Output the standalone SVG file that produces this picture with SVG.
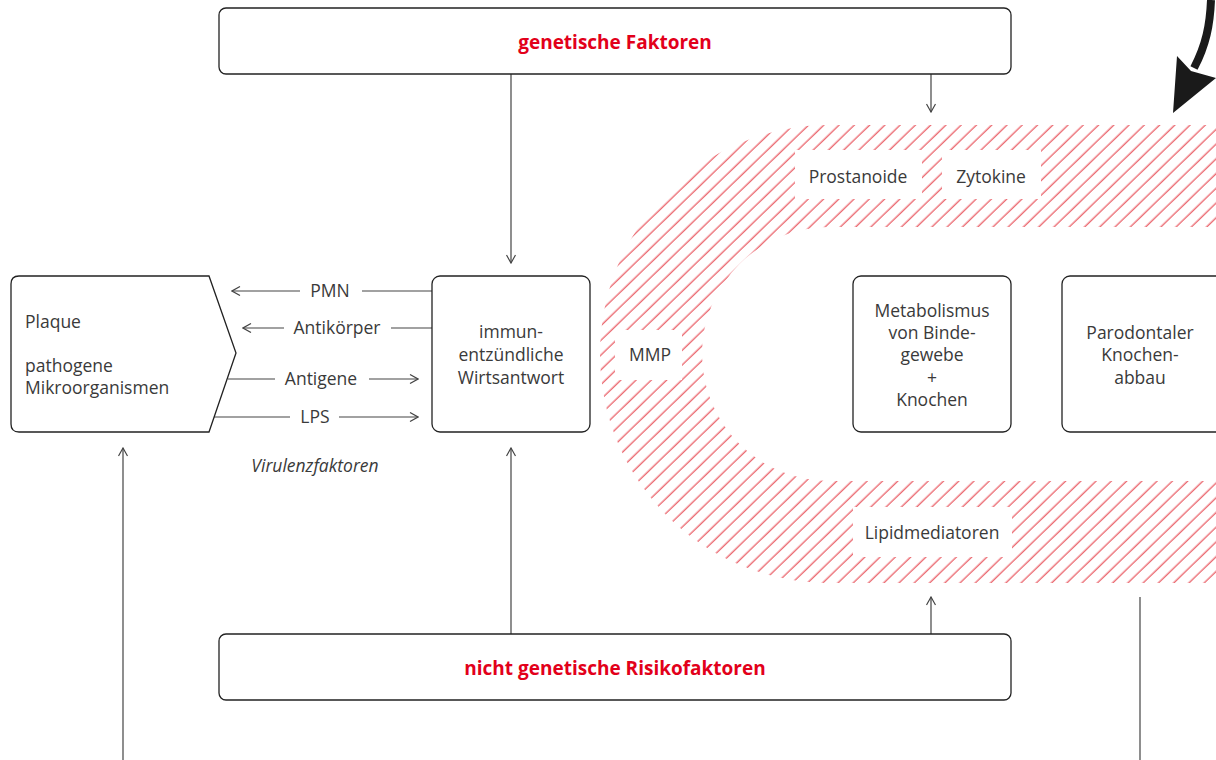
<svg xmlns="http://www.w3.org/2000/svg" width="1216" height="760" viewBox="0 0 1216 760">
<style>
.box{fill:#fff;stroke:#222;stroke-width:1.3}
.lbl{font-family:"Open Sans","Liberation Sans",sans-serif;font-size:17.5px;fill:#3a3a3a}
.mid{text-anchor:middle}
.title{font-family:"Open Sans","Liberation Sans",sans-serif;font-size:19px;font-weight:bold;fill:#e2001a;text-anchor:middle}
.con{stroke:#444;stroke-width:1.2;fill:none}
.hole{fill:#fff}
</style>
<defs>
<pattern id="hatch" patternUnits="userSpaceOnUse" width="10.6" height="10" patternTransform="rotate(46)">
<line x1="5" y1="-1" x2="5" y2="11" stroke="#e3303a" stroke-width="1"/>
</pattern>
<marker id="arr" viewBox="0 0 10 10" refX="9" refY="5" markerWidth="10" markerHeight="10" markerUnits="userSpaceOnUse" orient="auto">
<path d="M1,0.5 L9,5 L1,9.5" fill="none" stroke="#444" stroke-width="1.2"/>
</marker>
</defs>
<rect width="1216" height="760" fill="#fff"/>

<g id="band">
<path d="M1216,125 H829 A229,229 0 0 0 829,583 H1216 V481 H829 A127,127 0 0 1 829,227 H1216 Z" fill="url(#hatch)"/>
</g>

<g id="prostanoide">
<rect class="hole" x="795" y="150" width="127" height="49"/>
<text class="lbl mid" x="858" y="183">Prostanoide</text>
</g>
<g id="zytokine">
<rect class="hole" x="942" y="150" width="99" height="49"/>
<text class="lbl mid" x="991" y="183">Zytokine</text>
</g>
<g id="mmp">
<rect class="hole" x="615" y="330" width="67" height="50"/>
<text class="lbl mid" x="650" y="361">MMP</text>
</g>
<g id="lipidmediatoren">
<rect class="hole" x="853" y="507" width="159" height="50"/>
<text class="lbl mid" x="932" y="539">Lipidmediatoren</text>
</g>

<g id="connectors">
<line class="con" x1="511" y1="74" x2="511" y2="263" marker-end="url(#arr)"/>
<line class="con" x1="931" y1="74" x2="931" y2="112" marker-end="url(#arr)"/>
<line class="con" x1="511" y1="634" x2="511" y2="448" marker-end="url(#arr)"/>
<line class="con" x1="931" y1="634" x2="931" y2="597" marker-end="url(#arr)"/>
<line class="con" x1="123" y1="760" x2="123" y2="448" marker-end="url(#arr)"/>
<line class="con" x1="1140" y1="597" x2="1140" y2="760"/>
<line class="con" x1="432" y1="291" x2="362" y2="291"/>
<line class="con" x1="300" y1="291" x2="232" y2="291" marker-end="url(#arr)"/>
<line class="con" x1="432" y1="328" x2="391" y2="328"/>
<line class="con" x1="284" y1="328" x2="243" y2="328" marker-end="url(#arr)"/>
<line class="con" x1="228" y1="379" x2="275" y2="379"/>
<line class="con" x1="369" y1="379" x2="418" y2="379" marker-end="url(#arr)"/>
<line class="con" x1="214" y1="417" x2="290" y2="417"/>
<line class="con" x1="339" y1="417" x2="418" y2="417" marker-end="url(#arr)"/>
<text class="lbl mid" x="330" y="297">PMN</text>
<text class="lbl mid" x="337" y="334">Antikörper</text>
<text class="lbl mid" x="321" y="385">Antigene</text>
<text class="lbl mid" x="315" y="423">LPS</text>
<text class="lbl mid" x="315" y="472" font-style="italic">Virulenzfaktoren</text>
</g>

<g id="bigarrow">
<path d="M1211,0 C1210,25 1206,45 1194,68" fill="none" stroke="#1a1a1a" stroke-width="8"/>
<path d="M1177,56 L1191,71 L1216,78 L1173,113 Z" fill="#1a1a1a"/>
</g>

<g id="genetische">
<rect class="box" x="219" y="8" width="792" height="66" rx="7"/>
<text class="title" x="615" y="49">genetische Faktoren</text>
</g>
<g id="nichtgenetische">
<rect class="box" x="219" y="634" width="792" height="66" rx="7"/>
<text class="title" x="615" y="675">nicht genetische Risikofaktoren</text>
</g>

<g id="plaque">
<path class="box" d="M19,276 H209 L236,353 L209,432 H19 Q11,432 11,424 V284 Q11,276 19,276 Z"/>
<text class="lbl" x="25" y="328">Plaque</text>
<text class="lbl" x="25" y="372">pathogene</text>
<text class="lbl" x="25" y="394">Mikroorganismen</text>
</g>
<g id="wirtsantwort">
<rect class="box" x="432" y="276" width="158" height="156" rx="8"/>
<text class="lbl mid" x="511" y="338">immun-</text>
<text class="lbl mid" x="511" y="361">entzündliche</text>
<text class="lbl mid" x="511" y="384">Wirtsantwort</text>
</g>
<g id="metabolismus">
<rect class="box" x="853" y="276" width="158" height="156" rx="8"/>
<text class="lbl mid" x="932" y="317">Metabolismus</text>
<text class="lbl mid" x="932" y="339">von Binde-</text>
<text class="lbl mid" x="932" y="361">gewebe</text>
<text class="lbl mid" x="932" y="384">+</text>
<text class="lbl mid" x="932" y="406">Knochen</text>
</g>
<g id="knochenabbau">
<rect class="box" x="1062" y="276" width="164" height="156" rx="8"/>
<text class="lbl mid" x="1140" y="339">Parodontaler</text>
<text class="lbl mid" x="1140" y="361">Knochen-</text>
<text class="lbl mid" x="1140" y="384">abbau</text>
</g>
</svg>
